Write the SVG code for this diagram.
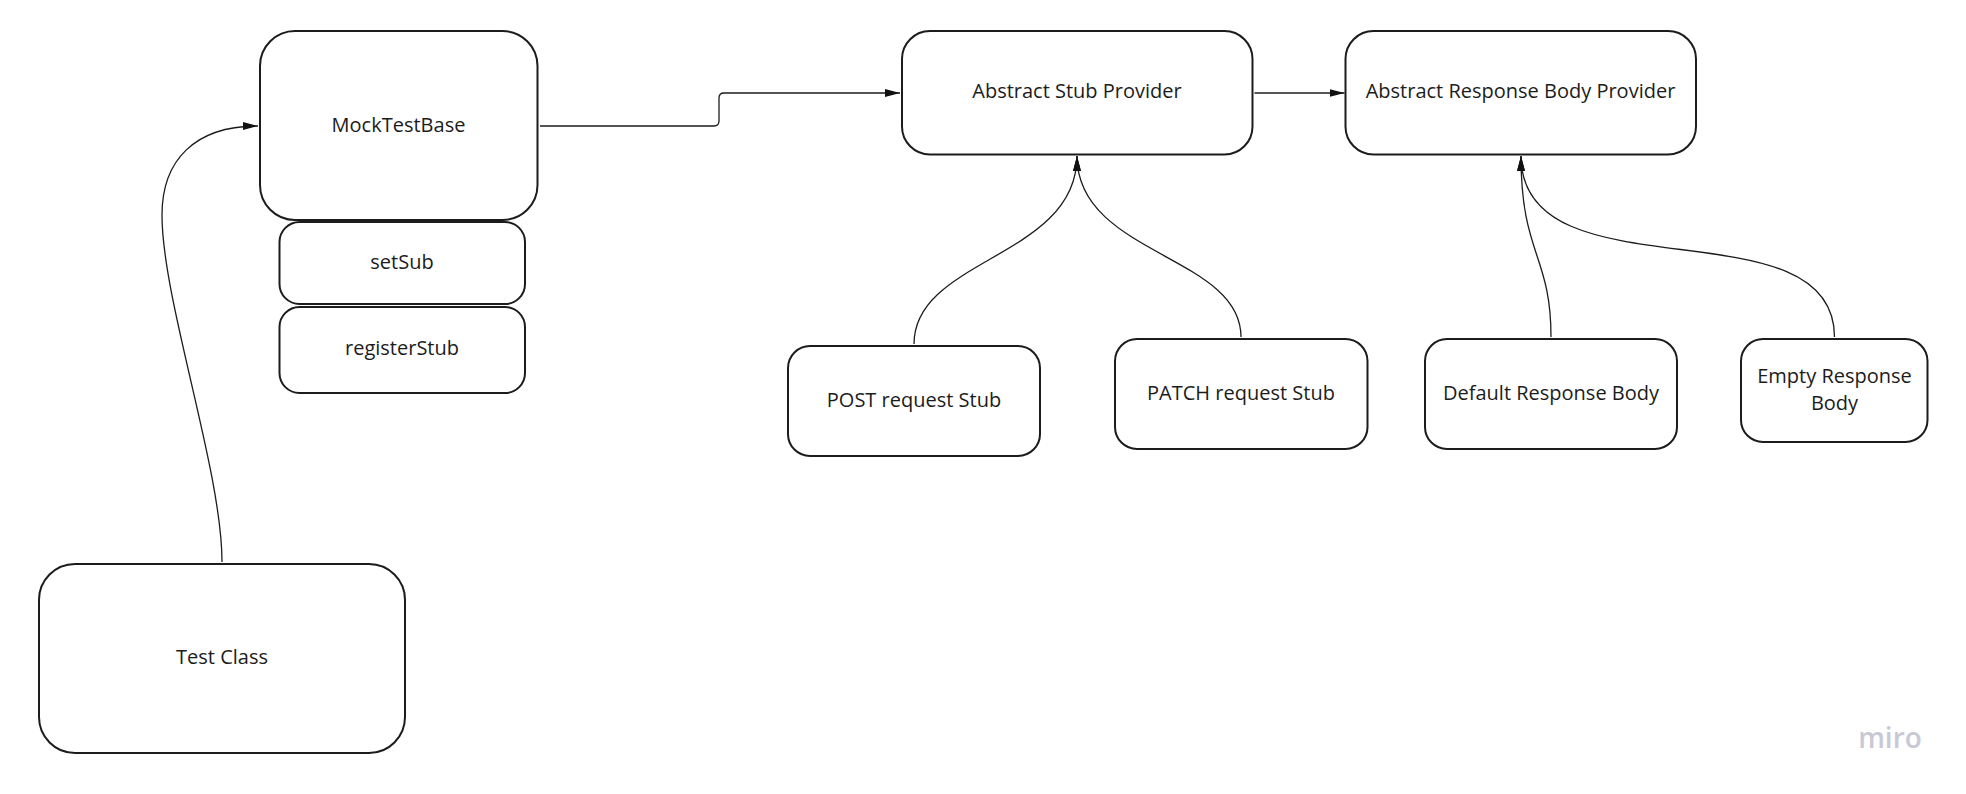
<svg xmlns="http://www.w3.org/2000/svg" width="1966" height="794" viewBox="0 0 1966 794">
<style>
.box{fill:#ffffff;stroke:#1c1c1c;stroke-width:2}
.lbl{font-family:"Open Sans","Liberation Sans",sans-serif;font-size:20px;fill:#1c1c1c;text-anchor:middle}
.con{fill:none;stroke:#1c1c1c;stroke-width:1.3}
.logo{font-family:"Open Sans","Liberation Sans",sans-serif;font-size:28px;font-weight:600;fill:#c9c9d6;text-anchor:middle}
</style>
<defs>
<marker id="ah" markerUnits="userSpaceOnUse" markerWidth="16" markerHeight="9" refX="15" refY="4" orient="auto">
<path d="M0,0 L15,4 L0,8 z" fill="#111111"/>
</marker>
</defs>
<rect width="1966" height="794" fill="#ffffff"/>
<g id="connectors">
<path class="con" marker-end="url(#ah)" d="M222,562 C222,470 162,300 162,215 C162,160 195,126 258,126"/>
<path class="con" marker-end="url(#ah)" d="M540,126 H714 Q719,126 719,121 V98 Q719,93 724,93 H900"/>
<path class="con" marker-end="url(#ah)" d="M1254.5,93 H1344.5"/>
<path class="con" marker-end="url(#ah)" d="M914,344 C914,258 1077,258 1077,156"/>
<path class="con" marker-end="url(#ah)" d="M1241,337 C1241,255 1077,255 1077,156"/>
<path class="con" marker-end="url(#ah)" d="M1551,337 C1551,255 1521,255 1521,156"/>
<path class="con" marker-end="url(#ah)" d="M1834.5,337 C1834.5,200 1521,300 1521,156"/>
</g>
<g id="mocktestbase">
<rect class="box" x="260" y="31" width="277.5" height="189" rx="35" ry="35"/>
<text class="lbl" x="398.5" y="131.5">MockTestBase</text>
</g>
<g id="setsub">
<rect class="box" x="279.5" y="222" width="245.5" height="82" rx="20" ry="20"/>
<text class="lbl" x="402" y="269">setSub</text>
</g>
<g id="registerstub">
<rect class="box" x="279.5" y="307" width="245.5" height="86" rx="20" ry="20"/>
<text class="lbl" x="402" y="355">registerStub</text>
</g>
<g id="testclass">
<rect class="box" x="39" y="564" width="366" height="189" rx="36" ry="36"/>
<text class="lbl" x="222" y="664">Test Class</text>
</g>
<g id="abstractstubprovider">
<rect class="box" x="902" y="31" width="350.5" height="123.5" rx="28" ry="28"/>
<text class="lbl" x="1077" y="98">Abstract Stub Provider</text>
</g>
<g id="abstractresponsebodyprovider">
<rect class="box" x="1345.5" y="31" width="350.5" height="123.5" rx="28" ry="28"/>
<text class="lbl" x="1520.5" y="98">Abstract Response Body Provider</text>
</g>
<g id="postrequeststub">
<rect class="box" x="788" y="346" width="252" height="110" rx="22" ry="22"/>
<text class="lbl" x="914" y="407">POST request Stub</text>
</g>
<g id="patchrequeststub">
<rect class="box" x="1115" y="339" width="252.5" height="110" rx="22" ry="22"/>
<text class="lbl" x="1241" y="400">PATCH request Stub</text>
</g>
<g id="defaultresponsebody">
<rect class="box" x="1425" y="339" width="252" height="110" rx="22" ry="22"/>
<text class="lbl" x="1551" y="400">Default Response Body</text>
</g>
<g id="emptyresponsebody">
<rect class="box" x="1741" y="339" width="186.5" height="103" rx="22" ry="22"/>
<text class="lbl" x="1834.5" y="383">Empty Response</text>
<text class="lbl" x="1834.5" y="410">Body</text>
</g>
<text class="logo" x="1890" y="748">miro</text>
</svg>
